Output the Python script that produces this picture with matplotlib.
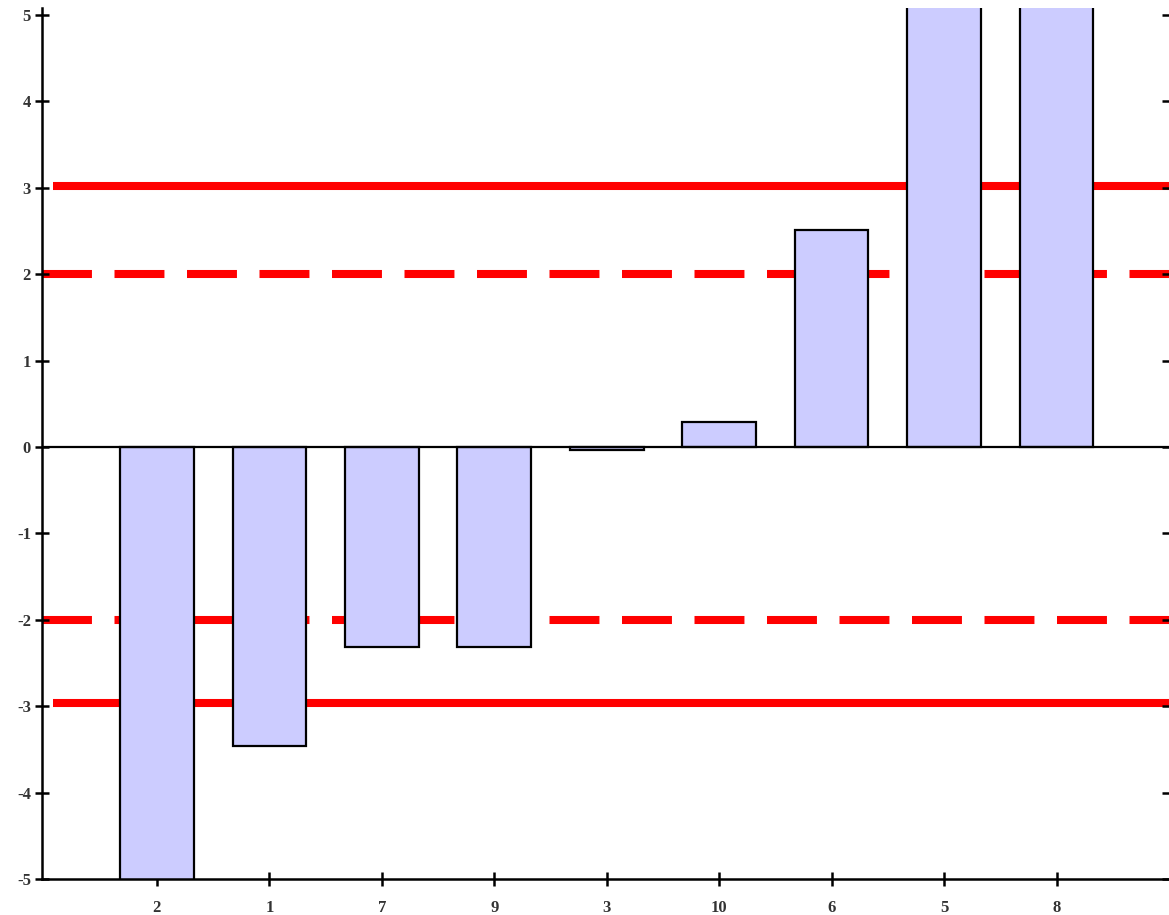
import matplotlib
matplotlib.use('Agg')
import matplotlib.pyplot as plt
import numpy as np

# categories in plotted order and their bar values
labels = ['2', '1', '7', '9', '3', '10', '6', '5', '8']
values = [-5.6, -3.46, -2.32, -2.32, -0.03, 0.29, 2.51, 5.8, 5.8]

# reference lines
solid_levels = [3.02, -2.96]
dashed_levels = [2.0, -2.0]

plt.rcParams['font.family'] = ['Liberation Serif', 'DejaVu Serif']
plt.rcParams['axes.unicode_minus'] = False

fig = plt.figure(figsize=(11.69, 9.15), dpi=100)
ax = fig.add_axes([42 / 1169, 1 - 879 / 915, 1 - 42 / 1169, (879 - 8) / 915])

x = np.arange(1, len(labels) + 1)

for lvl in solid_levels:
    ax.axhline(lvl, xmin=0.01, xmax=1, color='#ff0000', lw=5.8,
               solid_capstyle='butt', zorder=1)
for lvl in dashed_levels:
    ax.axhline(lvl, color='#ff0000', lw=5.8, dashes=(6.2, 2.8),
               dash_capstyle='butt', zorder=1)

ax.bar(x, values, width=0.655, color='#ccccff', edgecolor='black',
       linewidth=1.6, zorder=2)
ax.axhline(0, color='black', lw=1.6, zorder=3)

ax.set_xlim(-0.022, 10.0)
ax.set_ylim(-5, 5.08)
ax.set_xticks(x)
ax.set_xticklabels(labels)
ax.set_yticks(np.arange(-5, 6, 1))

for s in ['top', 'right']:
    ax.spines[s].set_visible(False)
for s in ['left', 'bottom']:
    ax.spines[s].set_linewidth(1.8)
    ax.spines[s].set_zorder(4)

ax.tick_params(axis='both', direction='inout', length=10, width=1.8,
               labelsize=12, pad=3, labelcolor='#333333')
ax.tick_params(axis='y', right=True)
ax.tick_params(axis='x', pad=10)
for t in ax.get_xticklabels() + ax.get_yticklabels():
    t.set_fontweight('bold')

fig.savefig('out.png', dpi=100)
